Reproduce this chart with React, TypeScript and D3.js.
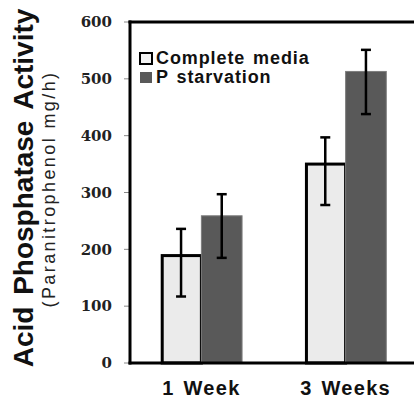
import React from "react";
import * as d3 from "d3";

const categories = ["1 Week", "3 Weeks"];
const seriesNames = ["Complete media", "P starvation"];
const completeValues = [189, 350];
const completeLow = [117, 278];
const completeHigh = [236, 397];
const starvValues = [259, 513];
const starvLow = [185, 438];
const starvHigh = [297, 551];
const yTicks = [0, 100, 200, 300, 400, 500, 600];

const WIDTH = 414;
const HEIGHT = 401;
const COLORS = ["#ebebeb", "#595959"];

export default function App() {
  const x0 = d3.scaleBand().domain(categories).range([130, 417]).paddingInner(0.436).paddingOuter(0.213);
  const x1 = d3.scaleBand().domain(seriesNames).range([0, x0.bandwidth()]);
  const y = d3.scaleLinear().domain([0, 600]).range([363, 22]);

  const rows = seriesNames.map((name, s) => ({
    name,
    values: s === 0 ? completeValues : starvValues,
    low: s === 0 ? completeLow : starvLow,
    high: s === 0 ? completeHigh : starvHigh,
  }));

  return (
    <svg width={WIDTH} height={HEIGHT} style={{ position: "absolute", left: 0, top: 0, background: "#fff" }}>
      {/* bars */}
      {rows.map((r, s) =>
        categories.map((c, i) => {
          const bx = (x0(c) ?? 0) + (x1(r.name) ?? 0);
          const w = x1.bandwidth();
          return (
            <rect
              key={`${s}-${i}`}
              x={bx + (s === 0 ? 1.5 : 0)}
              y={y(r.values[i])}
              width={w - (s === 0 ? 1.5 : 0)}
              height={y(0) - y(r.values[i])}
              fill={COLORS[s]}
              stroke={s === 0 ? "#000" : "#7d7d7d"}
              strokeWidth={s === 0 ? 3 : 1}
            />
          );
        })
      )}

      {/* error bars */}
      {rows.map((r, s) =>
        categories.map((c, i) => {
          const cx = (x0(c) ?? 0) + (x1(r.name) ?? 0) + x1.bandwidth() / 2;
          return (
            <g key={`e-${s}-${i}`} stroke="#000" strokeWidth={2.5}>
              <line x1={cx} x2={cx} y1={y(r.low[i])} y2={y(r.high[i])} />
              <line x1={cx - 5} x2={cx + 5} y1={y(r.low[i])} y2={y(r.low[i])} />
              <line x1={cx - 5} x2={cx + 5} y1={y(r.high[i])} y2={y(r.high[i])} />
            </g>
          );
        })
      )}

      {/* axes and frame */}
      {yTicks.map((t) => (
        <g key={t}>
          <line x1={124} x2={130} y1={y(t)} y2={y(t)} stroke="#888" strokeWidth={1} />
          <text
            x={112}
            y={y(t)}
            dy="0.35em"
            textAnchor="end"
            fontFamily="DejaVu Serif"
            fontWeight="bold"
            fontSize={15}
            fill="#222"
          >
            {t}
          </text>
        </g>
      ))}
      <line x1={130} x2={130} y1={20.5} y2={364.5} stroke="#000" strokeWidth={3} />
      <line x1={128.5} x2={WIDTH} y1={363} y2={363} stroke="#000" strokeWidth={3} />
      <line x1={128.5} x2={WIDTH} y1={22} y2={22} stroke="#000" strokeWidth={3} />

      {categories.map((c) => (
        <text
          key={c}
          x={(x0(c) ?? 0) + x0.bandwidth() / 2}
          y={395}
          textAnchor="middle"
          fontFamily="Liberation Sans"
          fontWeight="bold"
          fontSize={20}
          letterSpacing={1.3}
          wordSpacing={2}
          fill="#111"
        >
          {c}
        </text>
      ))}

      {/* y title */}
      <text
        transform="translate(33,188) rotate(-90)"
        textAnchor="middle"
        fontFamily="Liberation Sans"
        fontWeight="bold"
        fontSize={28}
        wordSpacing={4}
        fill="#111"
      >
        Acid Phosphatase Activity
      </text>
      <text
        transform="translate(55,189) rotate(-90)"
        textAnchor="middle"
        fontFamily="Liberation Sans"
        fontSize={18}
        letterSpacing={2.4}
        fill="#222"
      >
        (Paranitrophenol mg/h)
      </text>

      {/* legend */}
      {seriesNames.map((n, s) => (
        <g key={n} transform={`translate(140,${53 + s * 19})`}>
          <rect x={0} y={0} width={12} height={11} fill={s === 0 ? "#f4f4f4" : COLORS[1]} stroke={s === 0 ? "#000" : "none"} strokeWidth={2} />
          <text
            x={16}
            y={11}
            fontFamily="Liberation Sans"
            fontWeight="bold"
            fontSize={18}
            letterSpacing={0.9}
            wordSpacing={2}
            fill="#111"
          >
            {n}
          </text>
        </g>
      ))}
    </svg>
  );
}
